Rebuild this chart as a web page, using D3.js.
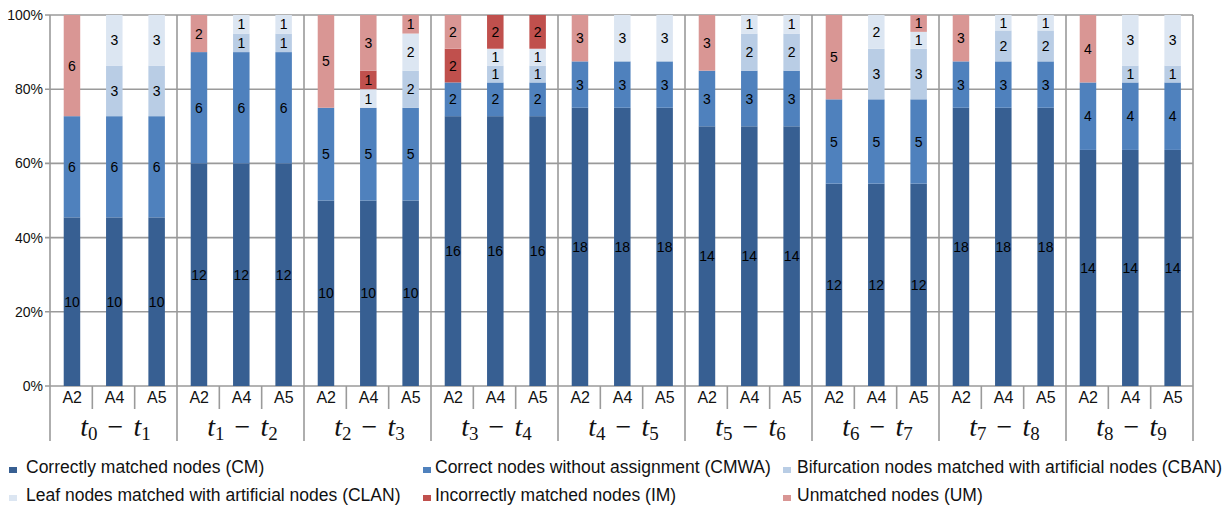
<!DOCTYPE html>
<html><head><meta charset="utf-8">
<script src="https://cdn.jsdelivr.net/npm/d3@7"></script>
<style>body{margin:0;background:#fff}svg{display:block}</style>
</head><body>
<svg id="c" width="1231" height="509"></svg>
<script>
// ---- data ----
const groupSubs = [[0,1],[1,2],[2,3],[3,4],[4,5],[5,6],[6,7],[7,8],[8,9]];
const methods = ["A2","A4","A5"];
const seriesNames = [
  "Correctly matched nodes (CM)",
  "Correct nodes without assignment (CMWA)",
  "Bifurcation nodes matched with artificial nodes (CBAN)",
  "Leaf nodes matched with artificial nodes (CLAN)",
  "Incorrectly matched nodes (IM)",
  "Unmatched nodes (UM)"
];
const seriesKeys = ["CM","CMWA","CBAN","CLAN","IM","UM"];
const seriesColors = ["#375f92","#4f81bd","#b9cde5","#dce6f2","#c0504d","#d99694"];
const CM   = [10,10,10, 12,12,12, 10,10,10, 16,16,16, 18,18,18, 14,14,14, 12,12,12, 18,18,18, 14,14,14];
const CMWA = [6,6,6, 6,6,6, 5,5,5, 2,2,2, 3,3,3, 3,3,3, 5,5,5, 3,3,3, 4,4,4];
const CBAN = [0,3,3, 0,1,1, 0,0,2, 0,1,1, 0,0,0, 0,2,2, 0,3,3, 0,2,2, 0,1,1];
const CLAN = [0,3,3, 0,1,1, 0,1,2, 0,1,1, 0,3,3, 0,1,1, 0,2,1, 0,1,1, 0,3,3];
const IM   = [0,0,0, 0,0,0, 0,1,0, 2,2,2, 0,0,0, 0,0,0, 0,0,0, 0,0,0, 0,0,0];
const UM   = [6,0,0, 2,0,0, 5,3,1, 2,0,0, 3,0,0, 3,0,0, 5,0,1, 3,0,0, 4,0,0];
const yTicks = [0,0.2,0.4,0.6,0.8,1.0];

// ---- build table ----
const seriesVals = {CM, CMWA, CBAN, CLAN, IM, UM};
const rows = [];
groupSubs.forEach((g,gi)=>methods.forEach((m,mi)=>{
  const i = gi*3+mi;
  const r = {id:i, group:gi, method:m};
  let tot = 0;
  seriesKeys.forEach(k=>{r[k]=seriesVals[k][i]; tot+=r[k];});
  seriesKeys.forEach(k=>{r[k]=r[k]/tot; r["n_"+k]=seriesVals[k][i];});
  rows.push(r);
}));
const stacked = d3.stack().keys(seriesKeys)(rows);

const svg = d3.select("#c");
const L=50, R=1193, T=15, B=386;
const x = d3.scaleBand().domain(rows.map(r=>r.id)).range([L,R]).paddingInner(0).paddingOuter(0);
const xg = d3.scaleBand().domain(groupSubs.map((d,i)=>i)).range([L,R]);
const y = d3.scaleLinear().domain([0,1]).range([B,T]);
const grid = "#9a9a9a";
const barW = 16.5;
const sans = "Liberation Sans, Arial, sans-serif";

// gridlines
svg.append("g").selectAll("line").data(yTicks).join("line")
  .attr("x1",L-5).attr("x2",R).attr("y1",d=>y(d)).attr("y2",d=>y(d))
  .attr("stroke",grid).attr("stroke-width",1.6);
// group separators (full height)
svg.append("g").selectAll("line").data(d3.range(groupSubs.length+1)).join("line")
  .attr("x1",i=>i<groupSubs.length?xg(i):R).attr("x2",i=>i<groupSubs.length?xg(i):R)
  .attr("y1",T).attr("y2",441)
  .attr("stroke",grid).attr("stroke-width",1.6);
// y tick labels
svg.append("g").selectAll("text").data(yTicks).join("text")
  .attr("x",43).attr("y",d=>y(d)).attr("dy","0.35em").attr("text-anchor","end")
  .attr("font-family",sans).attr("font-size",14).attr("fill","#111")
  .text(d3.format(".0%"));

// bars
const layers = svg.append("g").selectAll("g").data(stacked).join("g")
  .attr("fill",(d,i)=>seriesColors[i]);
layers.selectAll("rect").data(d=>d.filter(s=>s[1]-s[0]>0)).join("rect")
  .attr("x",d=>x(d.data.id)+x.bandwidth()/2-barW/2+0.8).attr("width",barW)
  .attr("y",d=>y(d[1])).attr("height",d=>y(d[0])-y(d[1]));
// labels
const lab = svg.append("g").attr("font-family",sans).attr("font-size",14).attr("fill","#000").attr("text-anchor","middle");
stacked.forEach((layer,li)=>{
  lab.selectAll(null).data(layer.filter(s=>s[1]-s[0]>0)).join("text")
    .attr("x",d=>x(d.data.id)+x.bandwidth()/2+0.8)
    .attr("y",d=>y((d[0]+d[1])/2)).attr("dy","0.36em")
    .text(d=>d.data["n_"+layer.key]);
});

// inner category separators
svg.append("g").selectAll("line").data(rows.filter(r=>r.id%3!==0)).join("line")
  .attr("x1",r=>x(r.id)).attr("x2",r=>x(r.id)).attr("y1",B).attr("y2",409)
  .attr("stroke",grid).attr("stroke-width",1.6);
// method labels
svg.append("g").selectAll("text").data(rows).join("text")
  .attr("x",r=>x(r.id)+x.bandwidth()/2+1).attr("y",403).attr("text-anchor","middle")
  .attr("font-family",sans).attr("font-size",16).attr("fill","#111")
  .text(r=>r.method);
// group labels
const gl = svg.append("g").selectAll("text").data(groupSubs).join("text")
  .attr("x",(d,i)=>xg(i)+xg.bandwidth()/2+2).attr("y",436).attr("text-anchor","middle")
  .attr("font-family","Liberation Serif, Times New Roman, serif").attr("font-size",28).attr("fill","#111");
gl.each(function(d){
  const t = d3.select(this);
  t.append("tspan").attr("font-style","italic").text("t");
  t.append("tspan").attr("font-size",19).attr("dy",4).text(d[0]);
  t.append("tspan").attr("dy",-4).attr("dx",10).text("\u2212");
  t.append("tspan").attr("font-style","italic").attr("dx",10).text("t");
  t.append("tspan").attr("font-size",19).attr("dy",4).text(d[1]);
});

// legend
const legMarkX = [9,423,783], legTextX = [26,435,797], legY = [467,495];
const lg = svg.append("g").selectAll("g").data(seriesNames).join("g")
  .attr("transform",(d,i)=>`translate(0,${legY[Math.floor(i/3)]})`);
lg.append("rect").attr("x",(d,i)=>legMarkX[i%3]).attr("y",0).attr("width",8).attr("height",6).attr("fill",(d,i)=>seriesColors[i]);
lg.append("text").attr("x",(d,i)=>legTextX[i%3]).attr("y",0).attr("dy","0.35em")
  .attr("font-family",sans).attr("font-size",17.5).attr("fill","#111")
  .text(d=>d);
</script>
</body></html>
